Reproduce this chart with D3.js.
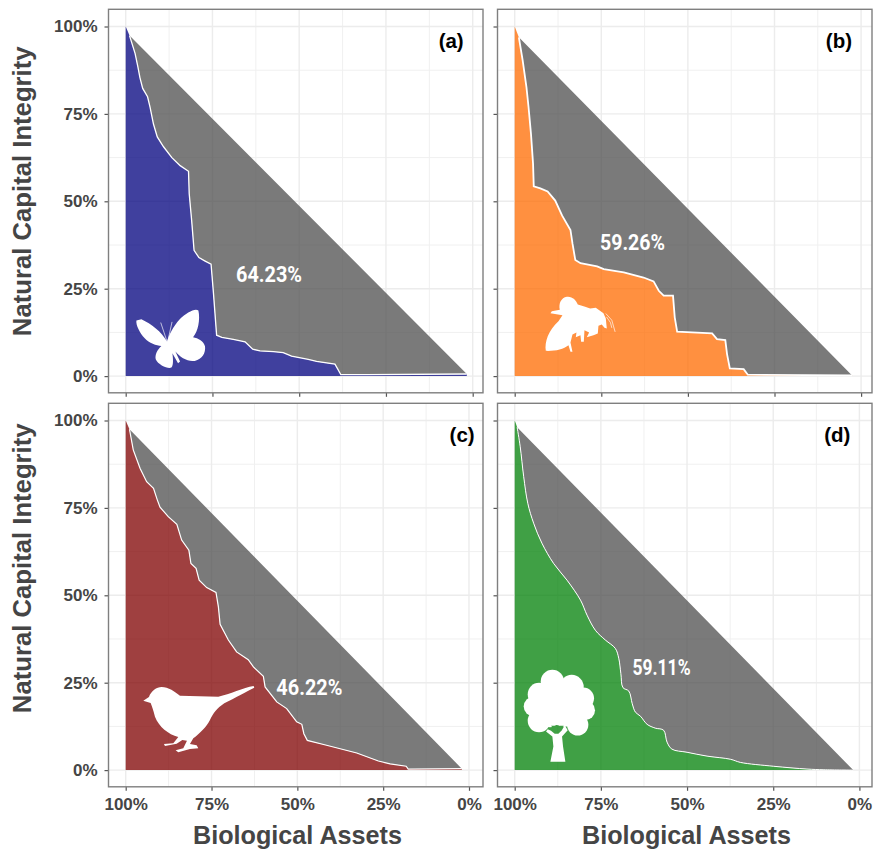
<!DOCTYPE html>
<html>
<head>
<meta charset="utf-8">
<script src="https://cdn.jsdelivr.net/npm/d3@7"></script>
<style>
  html, body { margin: 0; padding: 0; background: #fff; }
  svg { display: block; }
  text { font-family: "Liberation Sans", Arial, sans-serif; }
</style>
</head>
<body>
<div id="chart"></div>
<script>
// values, in percent
const assetsA = [100, 98.9, 97.3, 96.5, 95.9, 95.1, 93.7, 93, 92, 90.9, 89.1, 86.7, 84.3, 81.9, 81.7, 81, 80.3, 78.9, 77.1, 75.4, 74.7, 73.8, 72.3, 69, 65.6, 63.4, 61.3, 57.4, 54.6, 52.2, 47.4, 45, 39.7, 39, 38, 30.5, 1.7];
const integrityA = [100, 97.4, 92.3, 88.5, 85.4, 82.3, 79.9, 77, 72.1, 68.4, 65.6, 62.5, 60.2, 58.6, 52.2, 44.6, 36, 33.9, 32.9, 32, 23.6, 11.7, 11.1, 10.5, 9.8, 7.7, 7.2, 7, 6.7, 5.7, 4.8, 4.2, 3.4, 2.2, 0.4, 0.4, 0.6];

const assetsB = [100, 98.8, 97.7, 96.6, 96, 95.3, 94.7, 94.5, 92.6, 90.5, 88.3, 86.3, 83.9, 83.3, 82.5, 81, 76.2, 74.3, 68.5, 62.8, 59.9, 58.4, 57, 54.3, 53.8, 53.1, 43, 41.6, 39.2, 38.7, 37.9, 33.9, 32.7, 2.6];
const integrityB = [100, 96.9, 90.3, 82.6, 76.9, 69.3, 60.7, 54.3, 53.7, 52.8, 50.2, 45.9, 41.8, 37.8, 33.2, 32.3, 31.4, 30.6, 29.7, 28.2, 27.1, 24.4, 23, 23, 16.8, 12.7, 12.2, 10.6, 10.3, 6.3, 2.2, 2, 0.4, 0.2];

const assetsC = [100, 98.9, 97.8, 95.8, 93.9, 91.9, 90.8, 90, 87.6, 85.1, 83.7, 81.6, 81, 79.5, 78.6, 76.4, 73.7, 73, 72.5, 70.1, 67.7, 64.3, 62.8, 59.9, 59.4, 56, 53.1, 50.2, 48.7, 48.1, 47.1, 41.5, 32.7, 26.4, 23, 18.3, 17.7, 2.1];
const integrityC = [100, 97.5, 91.6, 86.3, 82.5, 80.6, 77.3, 75.2, 72.5, 70.3, 65.8, 62.9, 59.1, 57.7, 54.3, 52.2, 50.8, 46.7, 41.7, 37.2, 33.8, 31.6, 29.5, 26.8, 23.8, 19.5, 17.6, 13.8, 13.1, 10.4, 8.5, 7.1, 4.9, 2.6, 1.8, 1.1, 0.3, 0.4];

const assetsD = [100, 99.3, 98.4, 97.4, 96.2, 94.5, 92.1, 88.7, 84.8, 80.9, 79, 76.6, 73.7, 70.8, 69.8, 69.2, 68.6, 66.9, 65.9, 65, 63.5, 61.6, 59.2, 56.8, 55.8, 54.4, 50, 44.2, 37.4, 34.5, 24.9, 15.2, 10.3, 1.8];
const integrityD = [100, 98.1, 92.5, 84, 76.3, 70.6, 64.9, 59.1, 54.3, 48.6, 44.3, 40, 37.2, 34.8, 31.9, 27.6, 23.6, 22.6, 19, 16.6, 15.4, 13.1, 12, 11.4, 8, 6, 5.1, 4, 3.1, 2.2, 1.1, 0.3, 0.1, 0];

const panelTags = ["(a)", "(b)", "(c)", "(d)"];
const panelLabels = ["64.23%", "59.26%", "46.22%", "59.11%"];
const panelColors = ["#00007e", "#ff6b00", "#7f0000", "#008007"];
const allAssets = [assetsA, assetsB, assetsC, assetsD];
const allIntegrity = [integrityA, integrityB, integrityC, integrityD];

const majorTicks = [100, 75, 50, 25, 0];
const minorTicks = [87.5, 62.5, 37.5, 12.5];

// silhouettes, drawn in the 3x crop units they were traced in
const butterflyPath = "M122,125 C105,95 75,72 45,58 L30,62 C28,75 40,100 55,115 C68,130 90,137 105,138 C92,150 85,165 88,178 C95,195 125,208 135,203 C142,195 140,175 138,160 L155,190 L161,185 L147,155 C160,172 185,187 205,183 C228,178 238,160 236,140 C233,125 215,114 200,112 C215,95 222,60 216,32 C205,24 180,40 160,58 C140,80 128,105 122,125 Z";
const beePath = "M32,197 C28,170 40,135 70,108 L82,90 L46,84 L50,78 L74,74 C70,55 78,38 95,35 C112,33 122,45 128,58 L150,65 L165,70 L182,68 L205,84 L212,100 L215,130 L208,128 L200,118 L190,122 L188,145 L175,150 L155,156 L162,142 L148,135 L146,170 L138,170 L136,150 L122,156 L124,142 L112,148 L106,172 L112,200 L106,200 L100,180 C85,192 60,198 32,197 Z";
const birdPath = "M25,77 L42,66 C48,48 65,36 80,36 C100,36 120,50 135,62 L250,65 C285,58 325,38 356,33 L358,38 C335,50 300,68 268,85 C245,100 235,115 225,135 C215,155 195,175 175,190 L165,207 L185,211 L190,220 L165,222 L130,232 L122,226 L145,220 L156,197 L142,195 L125,206 L90,213 L87,207 L115,205 L130,186 C100,178 72,155 60,125 C55,105 50,92 47,84 Z";
const treeTrunkPath = "M106,291 L151,291 L144,245 L141,215 L158,196 L149,181 L140,197 L130,207 L119,207 L108,198 L98,193 L93,200 L112,215 L115,245 Z";
const treeCircles = [[112, 50, 35], [170, 66, 36], [205, 100, 32], [210, 136, 30], [188, 180, 32], [72, 88, 34], [56, 125, 30], [72, 168, 34], [130, 115, 66], [148, 150, 36], [105, 155, 32]];
const treeGaps = ["M108,183 L122,199 L126,183 Z", "M134,183 L132,200 L146,183 Z"];

const iconX = [99.8, 94.1, 97.3, 99.9];
const iconY = [21.8, 26, 27.2, 30.1];
const labelX = [58.7, 66, 46.5, 57.4];
const labelY = [27, 36, 21.5, 27.2];
const labelWidths = [66, 65, 66, 58];
const tagX = [6.2, 6.4, 2, 6.4];
const lineWidths = [1.3, 1.8, 1.2, 1];

const width = 873;
const height = 850;
const frameLeft = [108.5, 497.5];
const frameTop = [9.3, 403.3];
const yTitleCenter = [182, 165];
const frameW = 374.5;
const frameH = 383.5;
const xInset = 17.2;
// the four panels are not quite the same width in the reference
const xSpans = [347, 346.4, 343.3, 344.7];
const yInset = 17.2;
const ySpan = 349.6;

const inkColor = "#454545";

const svg = d3.select("#chart")
  .append("svg")
  .attr("width", width)
  .attr("height", height);

panelTags.forEach((tag, i) => {
  const col = i % 2;
  const row = Math.floor(i / 2);
  const g = svg.append("g")
    .attr("transform", `translate(${frameLeft[col]},${frameTop[row]})`);

  const x = d3.scaleLinear().domain([100, 0]).range([xInset, xInset + xSpans[i]]);
  const y = d3.scaleLinear().domain([0, 100]).range([yInset + ySpan, yInset]);

  const curve = allAssets[i].map((a, k) => [a, allIntegrity[i][k]]);
  // panel (d) is a smooth curve in the reference, the others have hard corners
  const curveType = i === 3 ? d3.curveCatmullRom.alpha(0.5) : d3.curveLinear;

  // Grid
  g.selectAll(".minor-x").data(minorTicks).enter().append("line")
    .attr("x1", (d) => x(d)).attr("x2", (d) => x(d))
    .attr("y1", 0).attr("y2", frameH)
    .style("stroke", "#f0f0f0").style("stroke-width", 1);
  g.selectAll(".minor-y").data(minorTicks).enter().append("line")
    .attr("y1", (d) => y(d)).attr("y2", (d) => y(d))
    .attr("x1", 0).attr("x2", frameW)
    .style("stroke", "#f0f0f0").style("stroke-width", 1);
  g.selectAll(".major-x").data(majorTicks).enter().append("line")
    .attr("x1", (d) => x(d)).attr("x2", (d) => x(d))
    .attr("y1", 0).attr("y2", frameH)
    .style("stroke", "#ececec").style("stroke-width", 1.4);
  g.selectAll(".major-y").data(majorTicks).enter().append("line")
    .attr("y1", (d) => y(d)).attr("y2", (d) => y(d))
    .attr("x1", 0).attr("x2", frameW)
    .style("stroke", "#ececec").style("stroke-width", 1.4);

  // Colored area under the curve
  const area = d3.area()
    .x((d) => x(d[0]))
    .y0(y(0))
    .y1((d) => y(d[1]))
    .curve(curveType);
  g.append("path")
    .attr("d", area(curve))
    .style("fill", panelColors[i])
    .style("fill-opacity", 0.75);

  // Gray gap between the curve and the diagonal
  const line = d3.line()
    .x((d) => x(d[0]))
    .y((d) => y(d[1]))
    .curve(curveType);
  g.append("path")
    .attr("d", line(curve.slice(1)) + "Z")
    .style("fill", "#4e4e4e")
    .style("fill-opacity", 0.75);

  // White curve
  g.append("path")
    .attr("d", line(curve.slice(1)))
    .style("fill", "none")
    .style("stroke", "#fff")
    .style("stroke-width", lineWidths[i]);

  // Icon
  const icon = g.append("g")
    .attr("transform", `translate(${x(iconX[i])},${y(iconY[i])}) scale(0.3333)`)
    .style("fill", "#fff");
  addIcon(icon, i);

  // Percent label
  g.append("text")
    .attr("x", x(labelX[i]))
    .attr("y", y(labelY[i]))
    .attr("text-anchor", "middle")
    .attr("textLength", labelWidths[i])
    .attr("lengthAdjust", "spacingAndGlyphs")
    .text(panelLabels[i])
    .style("font-family", "Roboto, sans-serif")
    .style("font-weight", 700)
    .style("font-size", "22px")
    .style("fill", "#fff");

  // Panel tag
  g.append("text")
    .attr("x", x(tagX[i]))
    .attr("y", 38.5)
    .attr("text-anchor", "middle")
    .text(tag)
    .style("font-weight", 700)
    .style("font-size", "20.5px")
    .style("fill", "#000");

  // Axes
  const xAxis = d3.axisBottom(x)
    .tickValues(majorTicks)
    .tickSize(4)
    .tickPadding(7)
    .tickFormat(row === 1 ? (d) => d + "%" : "");
  const yAxis = d3.axisLeft(y)
    .tickValues(majorTicks)
    .tickSize(4)
    .tickPadding(7)
    .tickFormat(col === 0 ? (d) => d + "%" : "");

  styleAxis(g.append("g").attr("transform", `translate(0,${frameH})`).call(xAxis));
  styleAxis(g.append("g").call(yAxis));

  // Frame
  g.append("rect")
    .attr("width", frameW)
    .attr("height", frameH)
    .style("fill", "none")
    .style("stroke", "#7f7f7f")
    .style("stroke-width", 1.4);

  // Axis titles
  if (row === 1) {
    g.append("text")
      .attr("x", 189)
      .attr("y", 441)
      .attr("text-anchor", "middle")
      .text("Biological Assets")
      .style("font-weight", 700)
      .style("font-size", "25.2px")
      .style("fill", inkColor);
  }
  if (col === 0) {
    g.append("text")
      .attr("transform", `translate(-77.5,${yTitleCenter[row]}) rotate(-90)`)
      .attr("text-anchor", "middle")
      .text("Natural Capital Integrity")
      .style("font-weight", 700)
      .style("font-size", "25.7px")
      .style("fill", inkColor);
  }
});

function styleAxis(axis) {
  axis.select(".domain").remove();
  axis.selectAll(".tick line")
    .style("stroke", "#555")
    .style("stroke-width", 1.2);
  axis.selectAll(".tick text")
    .style("font-family", '"Liberation Sans", Arial, sans-serif')
    .style("font-weight", 700)
    .style("font-size", "17px")
    .style("fill", inkColor);
}

function addIcon(icon, i) {
  if (i === 0) {
    icon.append("path").attr("d", butterflyPath);
    icon.append("path")
      .attr("d", "M122,125 L103,68 M124,125 L137,66")
      .style("fill", "none").style("stroke", "#fff").style("stroke-width", 2);
  } else if (i === 1) {
    icon.append("path").attr("d", beePath);
    icon.append("path")
      .attr("d", "M212,85 L230,105 L240,140 M214,95 L226,112 L230,128")
      .style("fill", "none").style("stroke", "#fff").style("stroke-width", 2);
  } else if (i === 2) {
    icon.append("path").attr("d", birdPath);
  } else {
    treeCircles.forEach((c) => {
      icon.append("circle").attr("cx", c[0]).attr("cy", c[1]).attr("r", c[2]);
    });
    icon.append("path").attr("d", treeTrunkPath);
    treeGaps.forEach((d) => {
      icon.append("path").attr("d", d).style("fill", "#40a045");
    });
  }
}
</script>
</body>
</html>
